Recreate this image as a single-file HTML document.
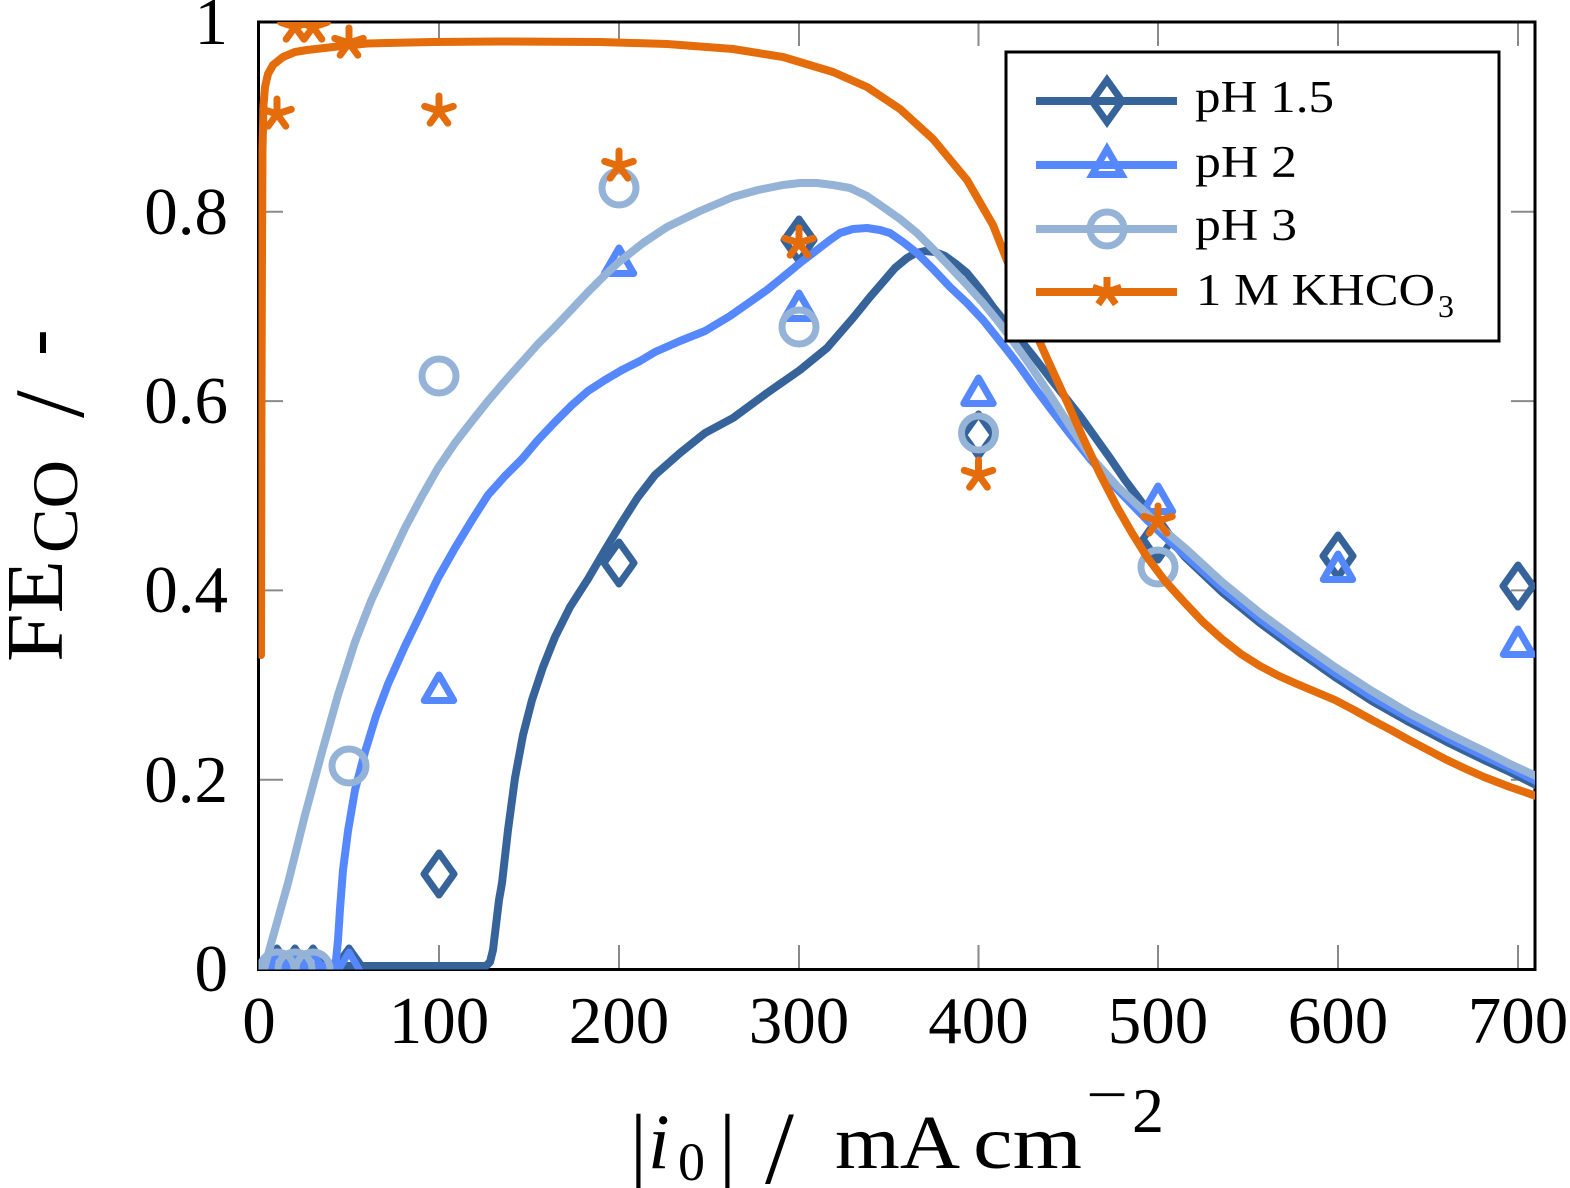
<!DOCTYPE html>
<html>
<head>
<meta charset="utf-8">
<style>
html,body{margin:0;padding:0;background:#fff;}
svg{display:block;}
text{font-family:"Liberation Serif","DejaVu Serif",serif;fill:#000;}
</style>
</head>
<body>
<svg width="1570" height="1188" viewBox="0 0 1570 1188" xmlns="http://www.w3.org/2000/svg">
<defs>
  <clipPath id="plotclip"><rect x="258.5" y="22" width="1276.5" height="947.5"/></clipPath>
  <polygon id="dm" points="0,-21 15,0 0,21 -15,0" fill="none" stroke="#36639a" stroke-width="7"/>
  <polygon id="tr" points="0,-17 14.72,8.5 -14.72,8.5" fill="none" stroke="#5588ff" stroke-width="7"/>
  <circle id="ci" cx="0" cy="0" r="17" fill="none" stroke="#95b3d7" stroke-width="7"/>
  <path id="st" d="M0,0 L0,-15 M0,0 L-14.27,-4.64 M0,0 L-8.82,12.14 M0,0 L8.82,12.14 M0,0 L14.27,-4.64" fill="none" stroke="#e46c0a" stroke-width="7"/>
</defs>

<rect x="0" y="0" width="1570" height="1188" fill="#fff"/>

<!-- ticks -->
<g stroke="#8a8a8a" stroke-width="2">
  <line x1="439" y1="969" x2="439" y2="945"/><line x1="619" y1="969" x2="619" y2="945"/>
  <line x1="799" y1="969" x2="799" y2="945"/><line x1="978.5" y1="969" x2="978.5" y2="945"/>
  <line x1="1158" y1="969" x2="1158" y2="945"/><line x1="1338" y1="969" x2="1338" y2="945"/>
  <line x1="1518" y1="969" x2="1518" y2="945"/>
  <line x1="439" y1="22" x2="439" y2="46"/><line x1="619" y1="22" x2="619" y2="46"/>
  <line x1="799" y1="22" x2="799" y2="46"/><line x1="978.5" y1="22" x2="978.5" y2="46"/>
  <line x1="1158" y1="22" x2="1158" y2="46"/><line x1="1338" y1="22" x2="1338" y2="46"/>
  <line x1="1518" y1="22" x2="1518" y2="46"/>
  <line x1="259" y1="779.7" x2="283" y2="779.7"/><line x1="259" y1="590.4" x2="283" y2="590.4"/>
  <line x1="259" y1="401.1" x2="283" y2="401.1"/><line x1="259" y1="211.8" x2="283" y2="211.8"/>
  <line x1="1535" y1="779.7" x2="1511" y2="779.7"/><line x1="1535" y1="590.4" x2="1511" y2="590.4"/>
  <line x1="1535" y1="401.1" x2="1511" y2="401.1"/><line x1="1535" y1="211.8" x2="1511" y2="211.8"/>
</g>

<!-- axis box -->
<rect x="258.5" y="22" width="1276.5" height="947.5" fill="none" stroke="#000" stroke-width="3"/>

<g clip-path="url(#plotclip)" stroke-linejoin="round" stroke-linecap="round">
  <!-- pH 1.5 model -->
  <polyline fill="none" stroke="#36639a" stroke-width="8" points="259,966 486,966 490,962 493,950 496,925 499,900 502,883 508,830 515,778 523,735 532,700 543,667 555,637 570,607 588,579 605,550 622,522 638,497 655,475 680,453 705,433 733,418 767,393 800,370 827,348 853,318 870,297 883,282 895,268 907,258 916,253 925,251 935,252 945,256 956,264 967,273 980,289 993,307 1005,322 1017,336 1034,357 1050,378 1065,397 1080,416 1095,437 1110,458 1125,480 1140,500 1160,527 1185,557 1222,592 1260,623 1298,651 1335,677 1372,701 1409,722 1447,742 1484,760 1510,772 1536,785"/>
  <!-- pH 1.5 data -->
  <use href="#dm" x="277" y="969"/><use href="#dm" x="295" y="969"/><use href="#dm" x="313" y="969"/><use href="#dm" x="349" y="969"/>
  <use href="#dm" x="439" y="874"/><use href="#dm" x="619" y="563"/><use href="#dm" x="799" y="240"/>
  <use href="#dm" x="978.5" y="435"/><use href="#dm" x="1158" y="539"/><use href="#dm" x="1338" y="556"/><use href="#dm" x="1518" y="586"/>

  <!-- pH 2 model -->
  <polyline fill="none" stroke="#5588ff" stroke-width="8" points="259,966 333,966 336,960 338,940 340,909 343,870 348,831 355,790 365,752 376,716 388,684 405,646 422,611 438,578 455,548 472,520 488,495 505,476 522,459 538,440 555,422 572,405 588,391 605,380 622,370 640,361 655,352 680,341 705,331 730,316 750,302 767,290 783,277 800,263 817,250 830,240 840,233 853,229 867,228 880,230 890,233 903,242 917,253 933,269 950,287 967,303 983,320 995,335 1007,350 1020,367 1035,388 1050,408 1070,434 1091,460 1118,490 1147,520 1165,537 1185,555 1222,588 1260,619 1298,647 1335,673 1372,697 1409,718 1447,738 1484,756 1510,768 1536,781"/>
  <!-- pH 2 data -->
  <use href="#tr" x="277" y="969"/><use href="#tr" x="295" y="969"/><use href="#tr" x="313" y="969"/><use href="#tr" x="349" y="969"/>
  <use href="#tr" x="439" y="692"/><use href="#tr" x="619" y="265"/><use href="#tr" x="799" y="310"/>
  <use href="#tr" x="978.5" y="395"/><use href="#tr" x="1158" y="503"/><use href="#tr" x="1338" y="571"/><use href="#tr" x="1518" y="646"/>

  <!-- pH 3 model -->
  <polyline fill="none" stroke="#95b3d7" stroke-width="8" points="264,969 276,926 288,883 305,815 322,752 338,695 355,642 371,601 388,564 405,528 422,496 438,468 455,443 472,421 488,401 505,381 522,362 538,344 555,327 572,309 588,292 605,275 619,262 643,243 667,227 700,211 733,197 758,190 783,185 800,183 817,183 833,185 850,188 867,196 883,207 900,219 917,233 933,249 950,267 967,285 983,303 997,320 1010,337 1030,365 1050,395 1070,426 1091,457 1118,487 1147,514 1165,531 1185,548 1222,582 1260,613 1298,641 1335,667 1372,691 1409,713 1447,733 1484,751 1510,764 1536,776"/>
  <!-- pH 3 data -->
  <use href="#ci" x="277" y="969"/><use href="#ci" x="295" y="969"/><use href="#ci" x="313" y="969"/>
  <use href="#ci" x="349" y="766"/><use href="#ci" x="439" y="376"/><use href="#ci" x="619" y="188"/>
  <use href="#ci" x="799" y="327"/><use href="#ci" x="978.5" y="433"/><use href="#ci" x="1158" y="567"/>

  <!-- KHCO3 model -->
  <polyline fill="none" stroke="#e46c0a" stroke-width="8" points="261,655 261.5,400 262,250 262.5,150 263.5,105 265,87 268,74 273,65 283,57 295,52 307,50 333,47 367,43.5 433,42 500,41.5 600,42 667,44 733,49 783,57 833,72 867,87 900,109 933,139 967,180 993,225 1010,268 1025,305 1037,336 1050,365 1067,402 1084,440 1100,474 1117,507 1132,533 1147,557 1165,581 1185,603 1203,622 1222,639 1241,654 1260,666 1279,676 1297,684 1316,692 1335,700 1354,710 1372,720 1391,730 1409,740 1428,750 1447,760 1466,769 1484,777 1510,787 1536,796"/>
  <!-- KHCO3 data -->
  <use href="#st" x="277" y="114"/><use href="#st" x="295" y="27"/><use href="#st" x="313" y="27"/>
  <use href="#st" x="349" y="43"/><use href="#st" x="439" y="111"/><use href="#st" x="619" y="166"/>
  <use href="#st" x="799" y="243"/><use href="#st" x="978.5" y="475"/><use href="#st" x="1158" y="521"/>
</g>

<!-- tick labels -->
<g font-size="67" text-anchor="middle">
  <text x="259" y="1043">0</text>
  <text x="439" y="1043">100</text>
  <text x="619" y="1043">200</text>
  <text x="799" y="1043">300</text>
  <text x="978.5" y="1043">400</text>
  <text x="1158" y="1043">500</text>
  <text x="1338" y="1043">600</text>
  <text x="1518" y="1043">700</text>
</g>
<g font-size="67" text-anchor="end">
  <text x="228" y="44">1</text>
  <text x="228" y="234">0.8</text>
  <text x="228" y="423">0.6</text>
  <text x="228" y="612">0.4</text>
  <text x="228" y="802">0.2</text>
  <text x="228" y="991">0</text>
</g>

<!-- x axis label -->
<text x="630" y="1172" font-size="84">|</text>
<text x="648" y="1168" font-size="78" font-style="italic">i</text>
<text x="678" y="1180" font-size="54">0</text>
<text x="719" y="1172" font-size="84">|</text>
<text x="765" y="1183" font-size="104">/</text>
<text x="835" y="1168" font-size="76" textLength="125" lengthAdjust="spacingAndGlyphs">mA</text>
<text x="973" y="1168" font-size="76" textLength="109" lengthAdjust="spacingAndGlyphs">cm</text>
<text x="1086" y="1114" font-size="58" textLength="42" lengthAdjust="spacingAndGlyphs">−</text>
<text x="1132" y="1132" font-size="64">2</text>

<!-- y axis label -->
<g transform="translate(62,662) rotate(-90)">
  <text x="0" y="0" font-size="80" textLength="102" lengthAdjust="spacingAndGlyphs">FE</text>
  <text x="109" y="15" font-size="65" textLength="93" lengthAdjust="spacingAndGlyphs">CO</text>
  <text x="244" y="21" font-size="100">/</text>
  <text x="306" y="0" font-size="80">-</text>
</g>

<!-- legend -->
<rect x="1006" y="52" width="493" height="289" fill="#fff" stroke="#000" stroke-width="3"/>
<g stroke-linejoin="miter">
  <line x1="1036" y1="101" x2="1177" y2="101" stroke="#36639a" stroke-width="8"/>
  <use href="#dm" x="1107" y="101"/>
  <line x1="1036" y1="165" x2="1177" y2="165" stroke="#5588ff" stroke-width="8"/>
  <use href="#tr" x="1107" y="166"/>
  <line x1="1036" y1="229" x2="1177" y2="229" stroke="#95b3d7" stroke-width="8"/>
  <use href="#ci" x="1107" y="229"/>
  <line x1="1036" y1="292" x2="1177" y2="292" stroke="#e46c0a" stroke-width="8"/>
  <use href="#st" x="1107" y="292"/>
</g>
<g font-size="45">
  <text x="1195" y="112" textLength="139" lengthAdjust="spacingAndGlyphs">pH 1.5</text>
  <text x="1195" y="177" textLength="102" lengthAdjust="spacingAndGlyphs">pH 2</text>
  <text x="1195" y="240" textLength="102" lengthAdjust="spacingAndGlyphs">pH 3</text>
  <text x="1196" y="305" textLength="239" lengthAdjust="spacingAndGlyphs">1 M KHCO</text>
  <text x="1438" y="317" font-size="32">3</text>
</g>
</svg>
</body>
</html>
